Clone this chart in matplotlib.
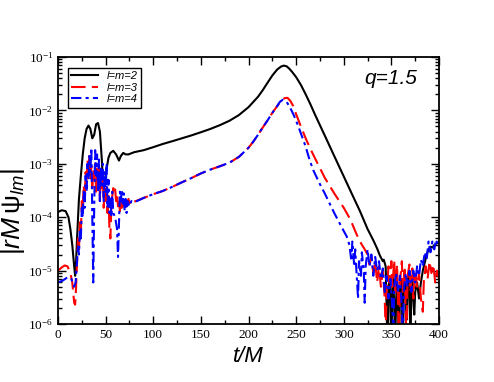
import matplotlib
matplotlib.use("Agg")
import matplotlib.pyplot as plt
from matplotlib.ticker import LogLocator, MultipleLocator, NullFormatter

plt.rcParams['mathtext.fontset'] = 'custom'
plt.rcParams['mathtext.it'] = 'Liberation Sans:italic'
plt.rcParams['mathtext.rm'] = 'Liberation Sans'

# l=m=2
t22 = [0, 4, 8, 11, 13, 15, 17, 18, 19, 20, 22, 24, 26, 28, 30, 32, 34, 36, 38, 40,
       42, 44, 46, 47.5, 49, 51, 53, 55, 58, 61, 64, 66, 68.5, 71, 74, 80, 90, 100,
       110, 120, 130, 140, 150, 160, 170, 180, 190, 200, 210, 215, 220, 225, 230,
       234, 237, 240, 243, 246, 250, 255, 260, 265, 270, 280, 290, 300, 310, 317, 325,
       331, 335, 338, 341, 342, 344, 345, 346, 347, 348, 349, 350, 351, 352, 353,
       354, 355, 356, 357, 358, 359, 360, 361, 362, 363, 364, 365, 366, 367, 368,
       369, 370, 371, 372, 373, 374, 375, 377, 379, 381, 383, 385, 387, 389, 391,
       393, 395, 397, 400]
psi22 = [1.25e-4, 1.35e-4, 1.3e-4, 1.0e-4, 6e-5, 3e-5, 1.2e-5, 8e-6, 1.5e-5, 4e-5,
         2.2e-4, 6e-4, 1.5e-3, 3e-3, 4.5e-3, 5.2e-3, 4.5e-3, 3e-3, 3.5e-3, 5.5e-3,
         5.8e-3, 4e-3, 1.2e-3, 3.8e-4, 4.5e-4, 8e-4, 1.3e-3, 1.6e-3, 1.75e-3, 1.5e-3,
         1.15e-3, 1.4e-3, 1.6e-3, 1.5e-3, 1.5e-3, 1.65e-3, 1.8e-3, 2.05e-3, 2.35e-3,
         2.65e-3, 3.0e-3, 3.4e-3, 3.9e-3, 4.5e-3, 5.3e-3, 6.4e-3, 8.2e-3, 1.15e-2,
         1.8e-2, 2.4e-2, 3.3e-2, 4.5e-2, 5.8e-2, 6.6e-2, 6.9e-2, 6.7e-2, 6e-2, 5.2e-2,
         4.2e-2, 3.0e-2, 2.0e-2, 1.3e-2, 8.2e-3, 3.4e-3, 1.4e-3, 5.8e-4, 2.4e-4, 1.3e-4, 6e-5,
         3.7e-5, 2.6e-5, 1.9e-5, 1.5e-5, 1.6e-5, 1.2e-5, 2e-6, 3e-7, 4e-6, 7e-6, 3e-6,
         3e-7, 5e-6, 8e-6, 2e-6, 4e-7, 3e-6, 6e-6, 2e-6, 3e-7, 4e-6, 7e-6, 3e-6, 3e-7,
         5e-6, 9e-6, 4e-6, 1.2e-6, 5e-6, 8e-6, 3e-6, 5e-7, 4e-6, 8e-6, 3e-6, 1.5e-6,
         4e-6, 6e-6, 3e-6, 6e-6, 1e-5, 1.4e-5, 2e-5, 2.5e-5, 2.8e-5, 2.7e-5, 3e-5,
         3.2e-5, 3.4e-5]

# l=m=3
t33 = [0, 4, 7, 10, 13, 15, 17, 18, 19, 20, 21, 22, 23, 24, 25, 26, 27, 28, 29, 30,
       31, 32, 33, 34, 35, 36, 37, 38, 39, 40, 41, 42, 43, 44, 45, 46, 47, 48, 49, 50,
       51, 52, 53, 54, 55, 56, 57, 58, 59, 60, 61, 62, 63, 64, 65, 66, 67, 68, 69, 70,
       72, 74, 76, 78, 80, 90, 100, 110, 120, 130, 140, 150, 160, 170, 180, 190, 200,
       205, 210, 215, 220, 225, 230, 234, 238, 241, 244, 247, 250, 255, 260, 265, 270,
       280, 290, 300, 307, 313, 317, 322, 325, 327, 329, 331, 333, 335, 337, 339, 341,
       343, 344, 345, 347, 348, 350, 351, 353, 354, 356, 357, 358, 359, 361, 362, 364,
       365, 366, 367, 369, 370, 372, 373, 375, 377, 379, 381, 383, 384, 386, 388, 390,
       392, 394, 396, 398, 400]
psi33 = [1.0e-5, 1.15e-5, 1.25e-5, 1.2e-5, 9e-6, 6e-6, 2.5e-6, 2.3e-6, 5e-6, 1.5e-5,
         4e-5, 2.5e-5, 8e-5, 5e-5, 2e-4, 1.5e-4, 4e-4, 2e-4, 7e-4, 4e-4, 1.2e-3, 6e-4,
         1.5e-3, 5e-4, 9e-4, 3e-4, 8e-4, 5e-4, 1e-3, 3e-4, 9e-4, 4e-4, 1e-3, 2e-4, 7e-4,
         3e-4, 6e-4, 1.5e-4, 5e-4, 2e-4, 3.5e-4, 1.2e-4, 2.5e-4, 6e-5, 4e-5, 1.5e-4,
         2.5e-4, 3.5e-4, 2.8e-4, 3.3e-4, 2e-4, 2.6e-4, 1.6e-4, 2.2e-4, 1.3e-4, 2.4e-4,
         1.5e-4, 2.2e-4, 1.6e-4, 2.4e-4, 1.8e-4, 2.2e-4, 1.7e-4, 1.9e-4, 1.95e-4,
         2.3e-4, 2.7e-4, 3.1e-4, 3.7e-4, 4.5e-4, 5.4e-4, 6.6e-4, 7.8e-4, 9e-4, 1.05e-3,
         1.35e-3, 2e-3, 2.6e-3, 3.5e-3, 4.8e-3, 6.5e-3, 9e-3, 1.2e-2, 1.5e-2, 1.7e-2,
         1.72e-2, 1.5e-2, 1.2e-2, 8.5e-3, 5e-3, 3e-3, 1.9e-3, 1.25e-3, 5.5e-4, 2.8e-4,
         1.5e-4, 9e-5, 5e-5, 3.5e-5, 2.5e-5, 2e-5, 1.3e-5, 1.8e-5, 9e-6, 1.5e-5, 6e-6,
         1.2e-5, 5e-6, 1e-5, 3e-6, 7e-7, 4e-6, 1.2e-5, 6e-6, 1.5e-5, 5e-6, 1.6e-5, 4e-6,
         1.3e-5, 2e-6, 5e-7, 6e-6, 1.5e-5, 4e-6, 1.2e-5, 1.5e-6, 6e-7, 8e-6, 1.3e-5,
         4e-6, 1.1e-5, 3e-6, 1e-5, 5e-6, 9e-6, 3e-6, 1.7e-6, 6e-6, 1.2e-5, 7e-6, 1.5e-5,
         9e-6, 1.3e-5, 6e-6, 1e-5, 7e-6]

# l=m=4
t44 = [0, 5, 10, 14, 17, 18.5, 20, 21, 22, 23, 24, 25, 26, 27, 28, 29, 30, 31, 32, 33,
       34, 35, 36, 37, 38, 39, 40, 41, 42, 43, 44, 45, 46, 47, 48, 49, 50, 51, 52, 53,
       54, 55, 56, 57, 58, 60, 62, 63, 64, 65, 66, 67, 68, 69, 70, 71, 72, 73, 75, 77,
       80, 90, 100, 110, 120, 130, 140, 150, 160, 170, 180, 190, 200, 205, 210, 215,
       220, 225, 230, 233, 236, 240, 244, 248, 252, 256, 260, 264, 268, 274, 280, 290,
       296, 300, 303, 306, 308, 309, 311, 312, 314, 315, 316, 318, 319, 321, 322, 323,
       325, 327, 329, 331, 333, 335, 337, 339, 341, 343, 345, 347, 349, 351, 352, 353,
       355, 357, 359, 361, 362, 363, 365, 367, 369, 371, 373, 375, 377, 379, 381, 383,
       385, 387, 389, 391, 393, 395, 397, 399, 400]
psi44 = [6e-6, 6.5e-6, 7.5e-6, 7e-6, 5e-6, 6e-6, 1.5e-5, 3e-5, 2e-5, 6e-5, 4e-5, 1.5e-4,
         1e-4, 3e-4, 1.5e-4, 6e-4, 3e-4, 1e-3, 5e-4, 1.4e-3, 7e-4, 2e-3, 1e-4, 6e-6,
         1.5e-4, 1.8e-3, 6e-4, 1.5e-3, 3e-4, 1.2e-3, 2e-4, 9e-4, 4e-4, 1e-3, 2e-4, 7e-4,
         3e-4, 1e-3, 1.5e-4, 5e-4, 1.2e-4, 2.5e-4, 1e-4, 3e-4, 1.2e-4, 1e-4, 6e-5,
         1.8e-5, 8e-5, 3e-4, 2e-4, 3.2e-4, 1.8e-4, 2.8e-4, 1.3e-4, 2.2e-4, 1.2e-4, 2e-4,
         1.6e-4, 2e-4, 1.9e-4, 2.3e-4, 2.7e-4, 3.1e-4, 3.7e-4, 4.5e-4, 5.4e-4, 6.6e-4,
         7.8e-4, 9e-4, 1.05e-3, 1.35e-3, 2e-3, 2.6e-3, 3.5e-3, 4.8e-3, 6.5e-3, 9e-3,
         1.2e-2, 1.45e-2, 1.58e-2, 1.45e-2, 1.1e-2, 7.8e-3, 5.2e-3, 3.3e-3, 2.1e-3,
         1.2e-3, 7.6e-4, 4.5e-4, 2.8e-4, 1.2e-4, 7.5e-5, 5.5e-5, 4.4e-5, 3e-5, 1.5e-5,
         3.5e-5, 1.2e-5, 2.5e-5, 6e-6, 3e-6, 1.5e-5, 8e-6, 2.2e-5, 1e-5, 2.5e-6, 1.2e-5,
         2.5e-5, 1.2e-5, 2e-5, 8e-6, 1.8e-5, 1e-5, 1.5e-5, 7e-6, 1.1e-5, 4e-6, 8e-6,
         3e-6, 7e-6, 2e-6, 6e-7, 5e-6, 9e-6, 4e-6, 8e-6, 2e-6, 6e-7, 4e-6, 9e-6, 5e-6,
         1e-5, 4e-6, 1e-5, 6e-6, 1.2e-5, 8e-6, 1.6e-5, 1.2e-5, 2.2e-5, 1.6e-5, 3.5e-5,
         2.2e-5, 3.5e-5, 2.5e-5, 3.8e-5, 2.8e-5, 3e-5]

xticks = [0, 50, 100, 150, 200, 250, 300, 350, 400]
yticks = [1e-6, 1e-5, 1e-4, 1e-3, 1e-2, 1e-1]
ytick_labels = [r'$\mathdefault{10^{-6}}$', r'$\mathdefault{10^{-5}}$',
                r'$\mathdefault{10^{-4}}$', r'$\mathdefault{10^{-3}}$',
                r'$\mathdefault{10^{-2}}$', r'$\mathdefault{10^{-1}}$']

fig = plt.figure(figsize=(4.94, 3.82), dpi=100)
ax = fig.add_axes([0.1174, 0.1518, 0.7713, 0.699])

ax.plot(t22, psi22, color='black', lw=1.5, label='l=m=2')
ax.plot(t33, psi33, color='red', lw=1.5, dashes=(7, 3), label='l=m=3')
ax.plot(t44, psi44, color='blue', lw=1.5, dashes=(5, 2, 1.5, 2), label='l=m=4')

ax.set_yscale('log')
ax.set_xlim(0, 400)
ax.set_ylim(1e-6, 1e-1)

ax.set_xticks(xticks)
ax.set_xticklabels([str(x) for x in xticks], family='Liberation Serif', fontsize=9.5)
ax.xaxis.set_minor_locator(MultipleLocator(25))
ax.set_yticks(yticks)
ax.set_yticklabels(ytick_labels, family='Liberation Serif', fontsize=9.5)
ax.yaxis.set_minor_locator(LogLocator(base=10, subs=range(2, 10), numticks=20))
ax.yaxis.set_minor_formatter(NullFormatter())
ax.tick_params(which='both', direction='in', top=True, right=True, width=1)
ax.tick_params(which='major', length=6)
ax.tick_params(which='minor', length=3)
for s in ax.spines.values():
    s.set_linewidth(1.3)

ax.set_xlabel('t/M', family='Liberation Sans', style='italic', fontsize=16, labelpad=4)
ax.set_ylabel(r'$|rM\,\mathrm{\psi}_{lm}|$', fontsize=19, labelpad=0)
ax.yaxis.set_label_coords(-0.082, 0.42)

ax.text(0.942, 0.92, 'q=1.5', transform=ax.transAxes, ha='right', va='center',
        family='Liberation Sans', style='italic', fontsize=15)

leg = ax.legend(loc='upper left', bbox_to_anchor=(0.026, 0.96), borderaxespad=0,
                fancybox=False, edgecolor='black', framealpha=1, handlelength=2.4,
                borderpad=0.3, labelspacing=0.15,
                prop={'family': 'Liberation Sans', 'style': 'italic', 'size': 8})
leg.get_frame().set_linewidth(1)

fig.savefig('out.png', dpi=100)
